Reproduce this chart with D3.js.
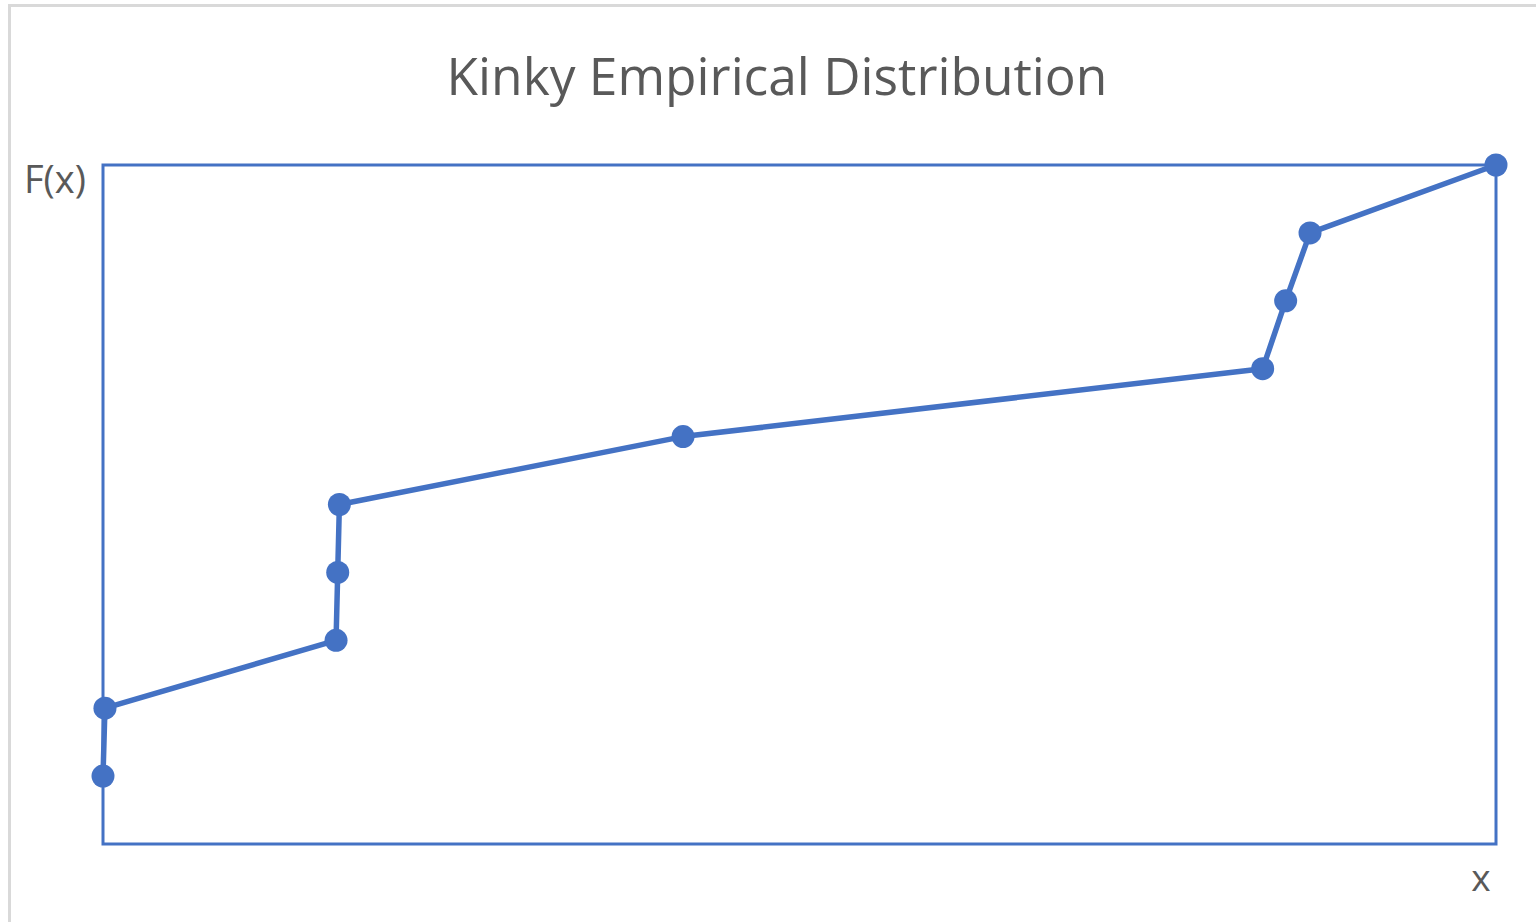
<!DOCTYPE html>
<html><head><meta charset="utf-8">
<script src="https://cdn.jsdelivr.net/npm/d3@7"></script>
<style>html,body{margin:0;padding:0;background:#fff;overflow:hidden}</style>
</head><body>
<svg id="chart" width="1536" height="922"></svg>
<script>
const title = "Kinky Empirical Distribution";
const yLabel = "F(x)";
const xLabel = "x";
const xValues = [0, 0.0014, 0.1673, 0.1685, 0.1697, 0.4164, 0.8325, 0.849, 0.8665, 1.0];
const fValues = [0.1, 0.2, 0.3, 0.4, 0.5, 0.6, 0.7, 0.8, 0.9, 1.0];

const svg = d3.select("#chart");
const blue = "#4472C4", grey = "#595959";
const L = 103, R = 1496, T = 165, B = 844;

svg.append("rect").attr("x", 9.5).attr("y", 5.5).attr("width", 1700).attr("height", 1100)
  .attr("fill", "#fff").attr("stroke", "#d9d9d9").attr("stroke-width", 3);

const x = d3.scaleLinear().domain([0, 1]).range([L, R]);
const y = d3.scaleLinear().domain([0, 1]).range([B, T]);

// frame
svg.append("rect").attr("x", x(0)).attr("y", y(1)).attr("width", x(1) - x(0)).attr("height", y(0) - y(1))
  .attr("fill", "none").attr("stroke", blue).attr("stroke-width", 3);

const data = xValues.map((v, i) => [v, fValues[i]]);
svg.append("path").datum(data)
  .attr("d", d3.line().x(d => x(d[0])).y(d => y(d[1])))
  .attr("fill", "none").attr("stroke", blue).attr("stroke-width", 5.5).attr("stroke-linejoin", "round");
svg.selectAll("circle.pt").data(data).enter().append("circle").attr("class", "pt")
  .attr("cx", d => x(d[0])).attr("cy", d => y(d[1])).attr("r", 11.5).attr("fill", blue);

const font = "'Open Sans', 'Noto Sans', sans-serif";
const t = svg.append("text").attr("x", 777).attr("y", 95).attr("text-anchor", "middle")
  .attr("font-family", font).attr("font-size", 48).attr("fill", grey).text(title);
const w = t.node().getComputedTextLength();
t.attr("font-size", 48 * 661 / w);

svg.append("text").attr("x", 24).attr("y", 193).attr("font-family", font).attr("font-size", 38)
  .attr("fill", grey).text(yLabel);
svg.append("text").attr("x", 1481).attr("y", 891).attr("text-anchor", "middle").attr("font-family", font).attr("font-size", 37)
  .attr("fill", grey).text(xLabel);
</script>
</body></html>
